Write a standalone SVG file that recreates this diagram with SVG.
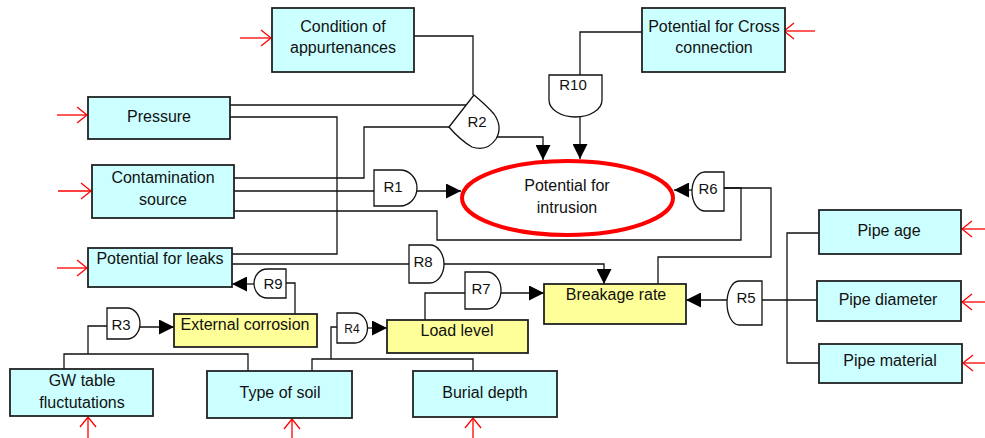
<svg xmlns="http://www.w3.org/2000/svg" width="985" height="438" viewBox="0 0 985 438">
<style>
text{font-family:"Liberation Sans",Arial,sans-serif;fill:#111;text-anchor:middle}
.t{font-size:16px}
.g{font-size:15px}
.box{fill:#CCFFFF;stroke:#222;stroke-width:1.8}
.yb{fill:#FFFF99;stroke:#222;stroke-width:1.8}
.gate{fill:#fff;stroke:#111;stroke-width:1.3}
.c{fill:none;stroke:#111;stroke-width:1.3}
.a{marker-end:url(#ah)}
.r{fill:none;stroke:#f00;stroke-width:1.3;marker-end:url(#ra)}
</style>
<defs>
<marker id="ah" viewBox="0 0 15 15" refX="15" refY="7.5" markerWidth="15" markerHeight="15" markerUnits="userSpaceOnUse" orient="auto"><path d="M0,0 L15,7.5 L0,15 Z" fill="#000"/></marker>
<marker id="ra" viewBox="-12 -10 13 20" refX="0" refY="0" markerWidth="13" markerHeight="20" markerUnits="userSpaceOnUse" orient="auto"><path d="M-10,-8 L0,0 L-10,8" fill="none" stroke="#f00" stroke-width="1.3"/></marker>
</defs>
<rect width="985" height="438" fill="#fff"/>

<g id="connectors">
<path class="c" d="M414,36 H473 V95"/>
<path class="c" d="M230,105 H467"/>
<path class="c" d="M230,117 H337 V254 H232"/>
<path class="c" d="M234,178 H364 V127 H449"/>
<path class="c" d="M234,191 H374"/>
<path class="c" d="M234,211 H437 V240 H741 V188 H724"/>
<path class="c a" d="M497,137 H543 V160"/>
<path class="c a" d="M580,117 V159"/>
<path class="c" d="M642,32 H580 V75"/>
<path class="c a" d="M417,191 H461"/>
<path class="c a" d="M692,190 H674"/>
<path class="c" d="M658,284 V257 H771 V188 H724"/>
<path class="c" d="M232,264 H409"/>
<path class="c a" d="M444,264 H604 V284"/>
<path class="c a" d="M254,284 H232"/>
<path class="c" d="M295,314 V283 H286"/>
<path class="c a" d="M140,327 H174"/>
<path class="c" d="M64,369 V354 H248 V371"/>
<path class="c" d="M88,354 V326 H107"/>
<path class="c a" d="M368,328 H387"/>
<path class="c" d="M312,371 V359 H473 V371"/>
<path class="c" d="M331,359 V327 H337"/>
<path class="c a" d="M501,293 H544"/>
<path class="c" d="M425,320 V293 H465"/>
<path class="c a" d="M727,300 H686"/>
<path class="c" d="M762,300 H817"/>
<path class="c" d="M819,233 H787 V363 H819"/>
<path class="r" d="M240,38 H271"/>
<path class="r" d="M57,115 H87"/>
<path class="r" d="M58,191 H91"/>
<path class="r" d="M57,268 H87"/>
<path class="r" d="M815,31 H784"/>
<path class="r" d="M985,229 H962"/>
<path class="r" d="M985,302 H962"/>
<path class="r" d="M985,363 H963"/>
<path class="r" d="M88,438 V417"/>
<path class="r" d="M292,438 V419"/>
<path class="r" d="M473,438 V418"/>
</g>

<g id="condition">
<rect class="box" x="272" y="8" width="142" height="64"/>
<text class="t" x="343" y="32">Condition of</text>
<text class="t" x="343" y="53">appurtenances</text>
</g>
<g id="cross">
<rect class="box" x="642" y="8" width="143" height="64"/>
<text class="t" x="714" y="32">Potential for Cross</text>
<text class="t" x="714" y="53">connection</text>
</g>
<g id="pressure">
<rect class="box" x="88" y="97" width="142" height="42"/>
<text class="t" x="159" y="122">Pressure</text>
</g>
<g id="contamination">
<rect class="box" x="92" y="165" width="142" height="53"/>
<text class="t" x="163" y="183">Contamination</text>
<text class="t" x="163" y="205">source</text>
</g>
<g id="leaks">
<rect class="box" x="88" y="248" width="144" height="39"/>
<text class="t" x="160" y="264">Potential for leaks</text>
</g>
<g id="intrusion">
<ellipse cx="567.5" cy="198" rx="105.5" ry="37" fill="#fff" stroke="#f00" stroke-width="4"/>
<text class="t" x="567" y="191">Potential for</text>
<text class="t" x="567" y="213">intrusion</text>
</g>
<g id="extcorr">
<rect class="yb" x="174" y="314" width="143" height="33"/>
<text class="t" x="245" y="330">External corrosion</text>
</g>
<g id="load">
<rect class="yb" x="387" y="320" width="141" height="33"/>
<text class="t" x="457" y="336">Load level</text>
</g>
<g id="breakage">
<rect class="yb" x="544" y="284" width="142" height="40"/>
<text class="t" x="616" y="300">Breakage rate</text>
</g>
<g id="gw">
<rect class="box" x="10" y="369" width="143" height="47"/>
<text class="t" x="82" y="386">GW table</text>
<text class="t" x="82" y="408">fluctutations</text>
</g>
<g id="soil">
<rect class="box" x="207" y="371" width="145" height="47"/>
<text class="t" x="280" y="398">Type of soil</text>
</g>
<g id="burial">
<rect class="box" x="413" y="371" width="144" height="46"/>
<text class="t" x="485" y="398">Burial depth</text>
</g>
<g id="pipeage">
<rect class="box" x="819" y="210" width="142" height="44"/>
<text class="t" x="889" y="236">Pipe age</text>
</g>
<g id="pipediam">
<rect class="box" x="817" y="281" width="144" height="40"/>
<text class="t" x="888" y="305">Pipe diameter</text>
</g>
<g id="pipemat">
<rect class="box" x="819" y="344" width="143" height="39"/>
<text class="t" x="890" y="366">Pipe material</text>
</g>

<g id="R1">
<path class="gate" d="M374,170 H400 A17,18 0 0 1 400,206 H374 Z"/>
<text class="g" x="393" y="192">R1</text>
</g>
<g id="R2">
<path class="gate" d="M449,127 L474,95 Q486,105 494,114 Q503,127 496,139 Q487,152 472,147 Q460,140 449,127 Z"/>
<text class="g" x="477" y="127">R2</text>
</g>
<g id="R3">
<path class="gate" d="M107,308 H127 A13,15.5 0 0 1 127,339 H107 Z"/>
<text class="g" x="121" y="330">R3</text>
</g>
<g id="R4">
<path class="gate" d="M337,313 H355 A12.5,15 0 0 1 355,343 H337 Z"/>
<text x="352" y="333" font-size="12">R4</text>
</g>
<g id="R5">
<path class="gate" d="M762,281 H739 A12,22 0 0 0 739,325 H762 Z"/>
<text class="g" x="746" y="303">R5</text>
</g>
<g id="R6">
<path class="gate" d="M724,172 H705 A13,19.5 0 0 0 705,211 H724 Z"/>
<text class="g" x="708" y="194">R6</text>
</g>
<g id="R7">
<path class="gate" d="M465,272 H487 A14,18.5 0 0 1 487,309 H465 Z"/>
<text class="g" x="481" y="294">R7</text>
</g>
<g id="R8">
<path class="gate" d="M409,245 H430 A14,19 0 0 1 430,283 H409 Z"/>
<text class="g" x="423" y="267">R8</text>
</g>
<g id="R9">
<path class="gate" d="M286,269 H267 A13,14.5 0 0 0 267,298 H286 Z"/>
<text class="g" x="273" y="289">R9</text>
</g>
<g id="R10">
<path class="gate" d="M549,75 H602 V100 A26.5,17 0 0 1 549,100 Z"/>
<text class="g" x="573" y="90">R10</text>
</g>
</svg>
